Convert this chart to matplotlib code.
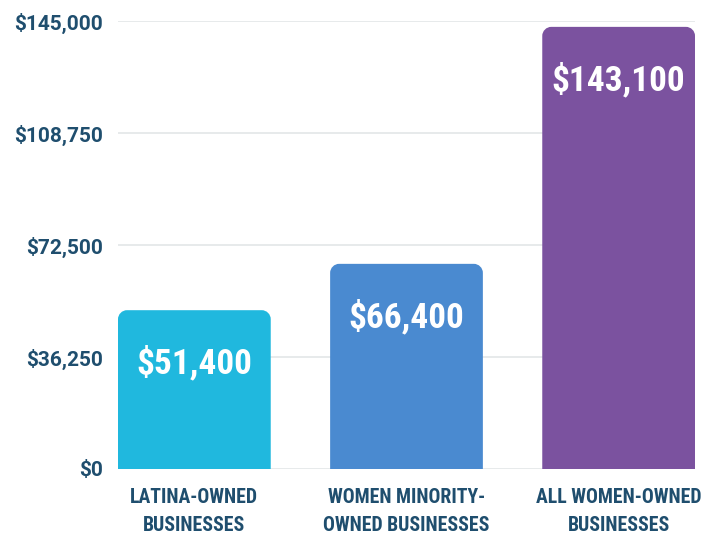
import matplotlib.pyplot as plt
from matplotlib.path import Path
from matplotlib.patches import PathPatch

categories = ["LATINA-OWNED\nBUSINESSES", "WOMEN MINORITY-\nOWNED BUSINESSES", "ALL WOMEN-OWNED\nBUSINESSES"]
values = [51400, 66400, 143100]
value_labels = ["$51,400", "$66,400", "$143,100"]
colors = ["#20b8de", "#4a8ad0", "#7b529f"]
yticks = [0, 36250, 72500, 108750, 145000]
ytick_labels = ["$0", "$36,250", "$72,500", "$108,750", "$145,000"]

text_color = "#1f4e6e"
cond = ["Roboto Condensed", "Liberation Sans Narrow", "DejaVu Sans"]
reg = ["Roboto", "DejaVu Sans"]

fig = plt.figure(figsize=(7.13, 5.35), dpi=100)
ax = fig.add_axes([118 / 713, 66 / 535, 577 / 713, 448 / 535])

width = 0.72
ax.set_xlim(-0.36, 2.36)
ax.set_ylim(0, 145000)


def rounded_top(x0, x1, top, rx, ry):
    k = 0.55
    verts = [(x0, 0), (x0, top - ry),
             (x0, top - ry + k * ry), (x0 + rx - k * rx, top), (x0 + rx, top),
             (x1 - rx, top),
             (x1 - rx + k * rx, top), (x1, top - ry + k * ry), (x1, top - ry),
             (x1, 0), (x0, 0)]
    codes = [Path.MOVETO, Path.LINETO,
             Path.CURVE4, Path.CURVE4, Path.CURVE4,
             Path.LINETO,
             Path.CURVE4, Path.CURVE4, Path.CURVE4,
             Path.LINETO, Path.CLOSEPOLY]
    return Path(verts, codes)


# corner radius about 9 px, converted to data units
rx = 9 / 212
ry = 9 * 145000 / 448
for i, (v, c) in enumerate(zip(values, colors)):
    p = rounded_top(i - width / 2, i + width / 2, v, rx, ry)
    ax.add_patch(PathPatch(p, facecolor=c, edgecolor="none", zorder=3))
    ax.annotate(value_labels[i], (i, v), xytext=(0, -38), textcoords="offset points",
                ha="center", va="center", color="white", fontsize=25.5,
                fontweight="bold", family=cond, zorder=4)

ax.set_yticks(yticks)
ax.set_yticklabels(ytick_labels, family=reg, fontweight="bold", fontsize=15, color=text_color)
ax.set_xticks(range(len(categories)))
ax.set_xticklabels(categories, family=cond, fontweight="bold", fontsize=14.2,
                   color=text_color, linespacing=1.55)
ax.tick_params(axis="both", length=0)
ax.tick_params(axis="y", pad=11)
ax.tick_params(axis="x", pad=14)
ax.grid(axis="y", color="#e3e6e8", linewidth=1.2, zorder=0)
ax.set_axisbelow(True)
for s in ax.spines.values():
    s.set_visible(False)

fig.savefig("out.png", dpi=100, facecolor="white")
